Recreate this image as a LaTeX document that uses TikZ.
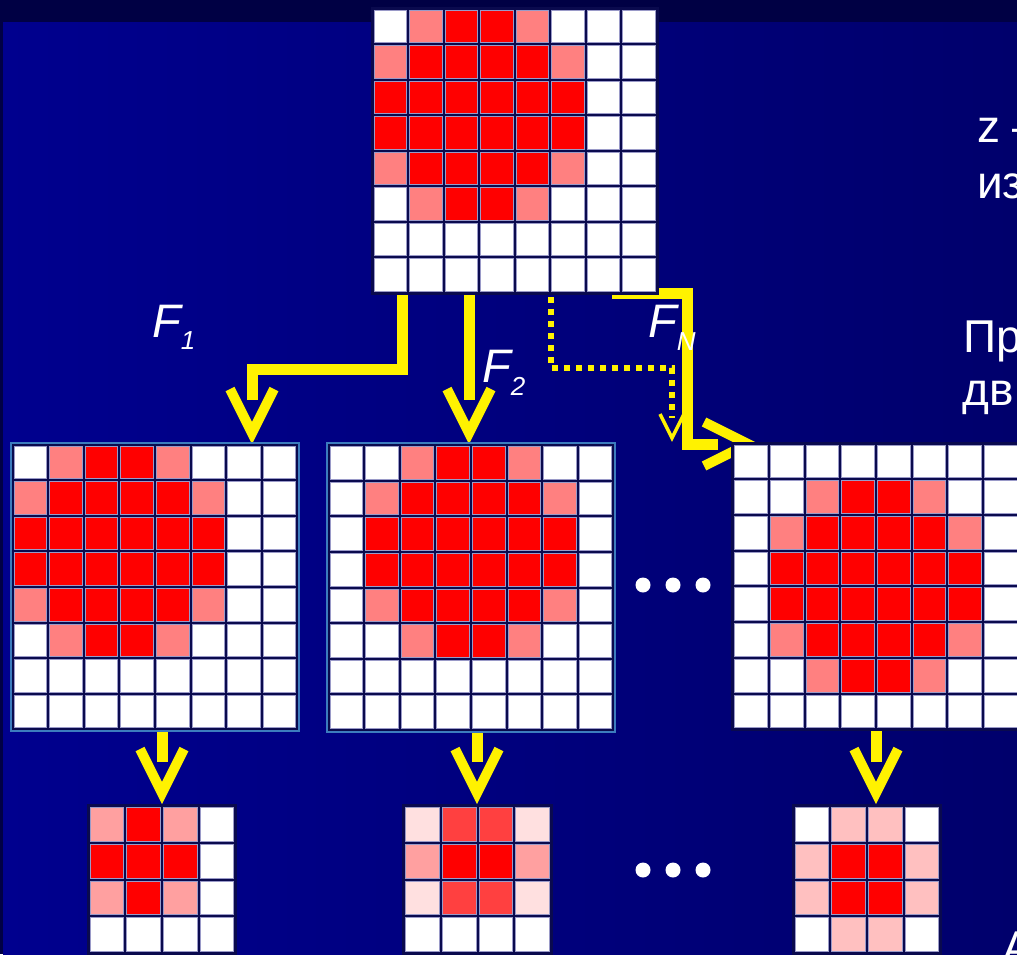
\documentclass[tikz,border=0pt]{standalone}
\usepackage{fontspec}
\setmainfont{Liberation Sans}
\usepackage{xcolor}
\usepackage{tikz}
\definecolor{W}{HTML}{FFFFFF}
\definecolor{P}{HTML}{FF8080}
\definecolor{R}{HTML}{FF0000}
\definecolor{L}{HTML}{FFA0A0}
\definecolor{M}{HTML}{FF4040}
\definecolor{V}{HTML}{FFE0E0}
\definecolor{S}{HTML}{FFC0C0}
\definecolor{band}{HTML}{000044}
\definecolor{bgleft}{HTML}{00008E}
\definecolor{bgright}{HTML}{00006C}
\definecolor{gap}{HTML}{0A0A4E}
\definecolor{rim}{HTML}{9A9AC8}
\definecolor{frameblue}{HTML}{3C7CBE}
\pgfdeclarelayer{bg}
\pgfdeclarelayer{wires}
\pgfsetlayers{bg,wires,main}
\newcommand{\pixgrid}[7][]{%
	\node[gridback, #1, minimum width=#6*#5+4, minimum height=#6*#5+4] (#2) at (#3-2,#4-2) {};
	\foreach \rw [count=\j from 0] in {#7}{
		\foreach \cl [count=\i from 0] in \rw{
			\path[cell, fill=\cl] (#3+\i*#5+1.5, #4+\j*#5+1.5) rectangle ++(#5-3, #5-3);
		}
	}
}

\begin{document}
\begin{tikzpicture}[x=1pt, y=-1pt,
		conn/.style={yellow, line width=11, line join=miter},
		vline/.style={yellow, line width=10, line join=miter},
		dotconn/.style={yellow, line width=6, dash pattern=on 6pt off 6pt},
		gridback/.style={fill=gap, inner sep=0, outer sep=0, anchor=north west},
		cell/.style={draw=rim, line width=0.7},
		lbl/.style={text=white, inner sep=0, anchor=base west, font=\fontsize{47}{56}\selectfont\itshape},
		side/.style={text=white, inner sep=0, anchor=base west, font=\fontsize{46}{55}\selectfont},
		vhead/.pic={\draw[vline] (-22,-44) -- (0,0) -- (22,-44);},
		vthin/.pic={\draw[yellow, line width=3.5, line join=miter] (-12,-24) -- (0,0) -- (12,-24);}
	]
			\useasboundingbox (0,0) rectangle (1017,954);
			\clip (0,0) rectangle (1017,954);
			\begin{pgfonlayer}{bg}
				\fill[band] (0,0) rectangle (1017,954);
				\shade[left color=bgleft, right color=bgright] (3,22) rectangle (1017,954);
			\end{pgfonlayer}
			
			\pixgrid{src}{372.5}{8.5}{35.5}{8}{
				{W,P,R,R,P,W,W,W},{P,R,R,R,R,P,W,W},{R,R,R,R,R,R,W,W},{R,R,R,R,R,R,W,W},
				{P,R,R,R,R,P,W,W},{W,P,R,R,P,W,W,W},{W,W,W,W,W,W,W,W},{W,W,W,W,W,W,W,W}}
			\pixgrid[draw=frameblue, line width=2]{img1}{12.5}{444.5}{35.6}{8}{
				{W,P,R,R,P,W,W,W},{P,R,R,R,R,P,W,W},{R,R,R,R,R,R,W,W},{R,R,R,R,R,R,W,W},
				{P,R,R,R,R,P,W,W},{W,P,R,R,P,W,W,W},{W,W,W,W,W,W,W,W},{W,W,W,W,W,W,W,W}}
			\pixgrid[draw=frameblue, line width=2]{img2}{328.5}{445}{35.6}{8}{
				{W,W,P,R,R,P,W,W},{W,P,R,R,R,R,P,W},{W,R,R,R,R,R,R,W},{W,R,R,R,R,R,R,W},
				{W,P,R,R,R,R,P,W},{W,W,P,R,R,P,W,W},{W,W,W,W,W,W,W,W},{W,W,W,W,W,W,W,W}}
			\pixgrid{imgN}{733}{443.5}{35.7}{8}{
				{W,W,W,W,W,W,W,W},{W,W,P,R,R,P,W,W},{W,P,R,R,R,R,P,W},{W,R,R,R,R,R,R,W},
				{W,R,R,R,R,R,R,W},{W,P,R,R,R,R,P,W},{W,W,P,R,R,P,W,W},{W,W,W,W,W,W,W,W}}
			\pixgrid{red1}{88.5}{806}{36.7}{4}{
				{L,R,L,W},{R,R,R,W},{L,R,L,W},{W,W,W,W}}
			\pixgrid{red2}{404}{806}{36.7}{4}{
				{V,M,M,V},{L,R,R,L},{V,M,M,V},{W,W,W,W}}
			\pixgrid{redN}{793.5}{806}{36.7}{4}{
				{W,S,S,W},{S,R,R,S},{S,R,R,S},{W,S,S,W}}
			
			\begin{pgfonlayer}{wires}
				\coordinate (f1k) at (402,369);
				\coordinate (f1e) at (252,400);
				\coordinate (f1v) at (252,433);
				\coordinate (f2e) at (469,400);
				\coordinate (f2v) at (469,433);
				\coordinate (fns) at (612,293.5);
				\coordinate (fnk) at (687,293.5);
				\coordinate (fne) at (718,444);
				\coordinate (fnv) at (748,444);
				\coordinate (ds) at (551,297);
				\coordinate (dk) at (672,368);
				\coordinate (de) at (672,418);
				\coordinate (dv) at (672,438);
				
				\draw[conn] (src.south -| f1k) -- (f1k) -| (f1e);
				\draw[conn] (src.south -| f2e) -- (f2e);
				\draw[conn] (fns) -- (fnk) |- (fne);
				\draw[dotconn] (ds) |- (dk) -- (de);
				\pic at (f1v) {vhead};
				\pic at (f2v) {vhead};
				\pic[rotate=90] at (fnv) {vhead};
				\pic at (dv) {vthin};
				\foreach \g/\x in {img1/162, img2/477, imgN/876}{
					\coordinate (se) at (\x,762);
					\draw[conn] (\g.south -| se) -- (se);
					\pic at (\x,793) {vhead};
				}
			\end{pgfonlayer}
			
			\node[lbl] (f1) at (152,337) {F\raisebox{-12pt}{\fontsize{26}{30}\selectfont 1}};
			\node[lbl] (f2) at (482,382) {F\raisebox{-13pt}{\fontsize{26}{30}\selectfont 2}};
			\node[lbl] (fN) at (648,337) {F\raisebox{-13pt}{\fontsize{26}{30}\selectfont N}};
			
			\node[side] (zline) at (977,142) {z –};
			\node[side] (izline) at (977,198) {из};
			\node[side] (prline) at (963,352) {Пр};
			\node[side] (dvline) at (962,405) {дв};
			\node[side] (aline) at (1002,963) {А};
			
			\foreach \x in {643,673,703}{
				\fill[white] (\x,585) circle (7.5pt);
				\fill[white] (\x,870) circle (7.5pt);
			}
\end{tikzpicture}
\end{document}
